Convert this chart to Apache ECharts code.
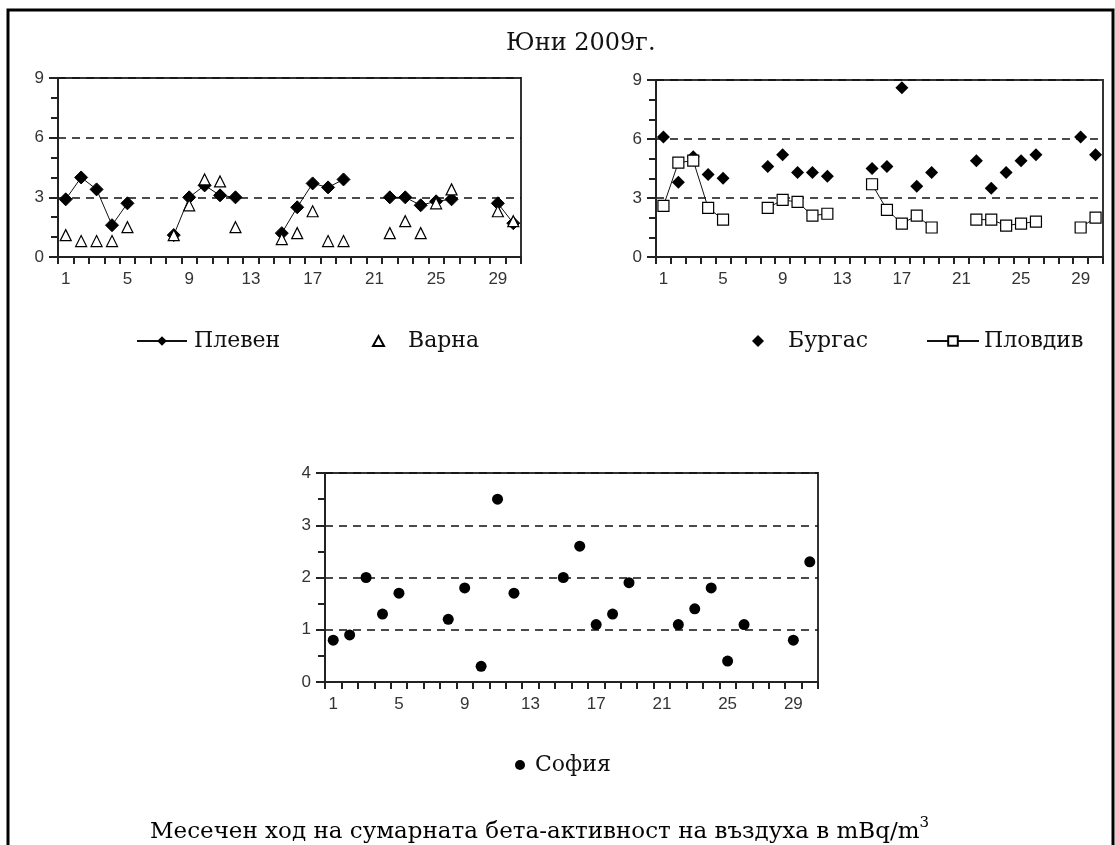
<!DOCTYPE html>
<html>
<head>
<meta charset="utf-8">
<script src="https://cdn.jsdelivr.net/npm/echarts@6/dist/echarts.min.js"></script>
<style>
  html, body { margin: 0; padding: 0; background: #fff; }
  #chart { width: 1115px; height: 845px; }
</style>
</head>
<body>
<div id="chart"></div>
<script>
// дни от месеца
const days = ['1','2','3','4','5','6','7','8','9','10','11','12','13','14','15','16','17','18','19','20','21','22','23','24','25','26','27','28','29','30'];

const pleven = [2.9,4.0,3.4,1.6,2.7,null,null,1.1,3.0,3.6,3.1,3.0,null,null,1.2,2.5,3.7,3.5,3.9,null,null,3.0,3.0,2.6,2.8,2.9,null,null,2.7,1.7];
const varna = [1.1,0.8,0.8,0.8,1.5,null,null,1.1,2.6,3.9,3.8,1.5,null,null,0.9,1.2,2.3,0.8,0.8,null,null,1.2,1.8,1.2,2.7,3.4,null,null,2.3,1.8];
const burgas = [6.1,3.8,5.1,4.2,4.0,null,null,4.6,5.2,4.3,4.3,4.1,null,null,4.5,4.6,8.6,3.6,4.3,null,null,4.9,3.5,4.3,4.9,5.2,null,null,6.1,5.2];
const plovdiv = [2.6,4.8,4.9,2.5,1.9,null,null,2.5,2.9,2.8,2.1,2.2,null,null,3.7,2.4,1.7,2.1,1.5,null,null,1.9,1.9,1.6,1.7,1.8,null,null,1.5,2.0];
const sofia = [0.8,0.9,2.0,1.3,1.7,null,null,1.2,1.8,0.3,3.5,1.7,null,null,2.0,2.6,1.1,1.3,1.9,null,null,1.1,1.4,1.8,0.4,1.1,null,null,0.8,2.3];

const serif = '"DejaVu Serif", "Liberation Serif", serif';
const sans = '"Liberation Sans", Arial, sans-serif';

var myChart = echarts.init(document.getElementById('chart'));

function xAxis(i) {
  return {
    type: 'category', gridIndex: i, data: days, boundaryGap: true,
    axisLine: { lineStyle: { color: '#222', width: 2 } },
    axisTick: { show: true, interval: 0, length: 7, lineStyle: { color: '#222', width: 2 } },
    axisLabel: { interval: 3, margin: 14, color: '#333', fontSize: 17, fontFamily: sans }
  };
}
function yAxis(i, max, step, minor) {
  return {
    type: 'value', gridIndex: i, min: 0, max: max, interval: step,
    axisLine: { show: true, lineStyle: { color: '#222', width: 2 } },
    axisTick: { show: true, length: 9, lineStyle: { color: '#222', width: 2 } },
    minorTick: { show: true, splitNumber: minor, length: 7, lineStyle: { color: '#222', width: 2 } },
    splitLine: { show: true, lineStyle: { color: '#111', width: 1.5, type: [8, 6] } },
    axisLabel: { margin: 14, color: '#333', fontSize: 17, fontFamily: sans }
  };
}
// по една легенда за всеки ред, за да стоят като в оригинала
function legend(name, icon, left, top, w, h, gap) {
  return {
    data: [{ name: name, icon: icon }], left: left, top: top, itemWidth: w, itemHeight: h,
    textStyle: { color: '#111', fontSize: 22, fontFamily: serif, padding: [0, 0, 0, gap] }
  };
}

myChart.setOption({
  animation: false,
  graphic: [
    { type: 'rect', shape: { x: 8, y: 10, width: 1105, height: 900 }, style: { fill: 'none', stroke: '#000', lineWidth: 3 } },
    { type: 'text', left: 506, top: 32, style: { text: 'Юни 2009г.', font: '24px ' + serif, fill: '#111' } },
    {
      type: 'text', left: 150, top: 816,
      style: {
        text: '{a|Месечен ход на сумарната бета-активност на въздуха в mBq/m}{s|3}',
        rich: {
          a: { fontFamily: serif, fontSize: 23, color: '#111', verticalAlign: 'bottom', lineHeight: 28 },
          s: { fontFamily: serif, fontSize: 15, color: '#111', verticalAlign: 'top', lineHeight: 28, padding: [0, 0, 14, 0] }
        }
      }
    }
  ],
  legend: [
    legend('Плевен', undefined, 131, 325, 50, 12, 2),
    legend('Варна', 'triangle', 367, 325, 11, 10, 19),
    legend('Бургас', 'diamond', 747, 325, 12, 12, 19),
    legend('Пловдив', undefined, 921, 325, 52, 12, 0),
    legend('София', 'circle', 510, 749, 10, 10, 5)
  ],
  grid: [
    { left: 58, top: 78, width: 463, height: 179, show: true, borderColor: '#333', borderWidth: 2 },
    { left: 656, top: 80, width: 447, height: 177, show: true, borderColor: '#333', borderWidth: 2 },
    { left: 325, top: 473, width: 493, height: 209, show: true, borderColor: '#333', borderWidth: 2 }
  ],
  xAxis: [xAxis(0), xAxis(1), xAxis(2)],
  yAxis: [yAxis(0, 9, 3, 3), yAxis(1, 9, 3, 3), yAxis(2, 4, 1, 2)],
  series: [
    {
      name: 'Плевен', type: 'line', xAxisIndex: 0, yAxisIndex: 0, data: pleven,
      connectNulls: false, symbol: 'diamond', symbolSize: 13, showAllSymbol: true, z: 3,
      lineStyle: { color: '#111', width: 1 },
      itemStyle: { color: '#000', borderColor: '#000', opacity: 1 }
    },
    {
      name: 'Варна', type: 'scatter', xAxisIndex: 0, yAxisIndex: 0, data: varna,
      symbol: 'triangle', symbolSize: 11, z: 4,
      itemStyle: { color: '#fff', borderColor: '#000', borderWidth: 1.2, opacity: 1 }
    },
    {
      name: 'Бургас', type: 'scatter', xAxisIndex: 1, yAxisIndex: 1, data: burgas,
      symbol: 'diamond', symbolSize: 13, z: 3,
      itemStyle: { color: '#000', opacity: 1 }
    },
    {
      name: 'Пловдив', type: 'line', xAxisIndex: 1, yAxisIndex: 1, data: plovdiv,
      connectNulls: false, symbol: 'rect', symbolSize: 11, showAllSymbol: true, z: 4,
      lineStyle: { color: '#111', width: 1 },
      itemStyle: { color: '#fff', borderColor: '#000', borderWidth: 1.2, opacity: 1 }
    },
    {
      name: 'София', type: 'scatter', xAxisIndex: 2, yAxisIndex: 2, data: sofia,
      symbol: 'circle', symbolSize: 11,
      itemStyle: { color: '#000', opacity: 1 }
    }
  ]
});
</script>
</body>
</html>
